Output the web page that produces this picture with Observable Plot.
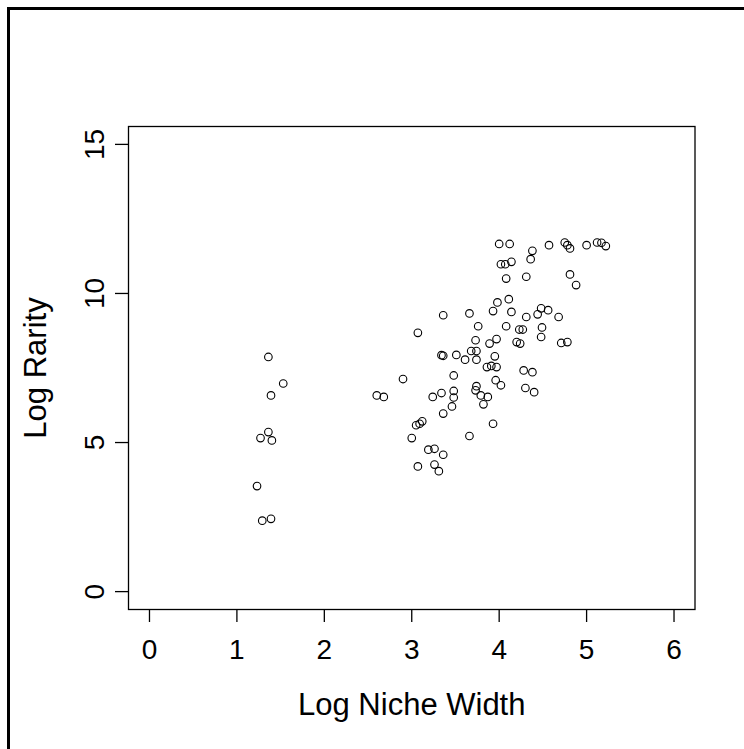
<!DOCTYPE html>
<html><head><meta charset="utf-8">
<script src="https://cdn.jsdelivr.net/npm/d3@7"></script>
<script src="https://cdn.jsdelivr.net/npm/@observablehq/plot@0.6"></script>
<style>
html,body{margin:0;padding:0;background:#fff;overflow:hidden;}
#wrap{position:relative;width:744px;height:749px;overflow:hidden;}
#border{position:absolute;left:7px;top:7px;width:800px;height:800px;border:3px solid #000;pointer-events:none;}
</style></head><body>
<div id="wrap"><div id="chart"></div><div id="border"></div></div>
<script>
const nicheWidth = [
  1.36,1.53,1.39,1.36,1.27,1.40,1.23,1.29,1.39,
  3.76,4.08,3.07,3.73,3.89,3.97,3.34,3.36,3.51,3.68,3.74,3.61,3.74,3.95,3.86,3.91,3.97,3.48,2.90,3.96,4.02,
  2.60,2.68,3.24,3.34,3.48,3.48,3.74,3.73,3.79,3.87,3.82,3.46,3.36,3.12,3.09,3.05,3.93,3.00,3.66,3.19,3.26,3.36,3.07,3.26,3.31,
  4.00,4.12,4.38,4.36,4.57,4.75,4.78,4.81,5.00,5.12,5.17,5.22,4.02,4.07,4.14,4.08,4.31,4.81,4.88,4.11,3.98,3.36,3.66,3.93,4.14,4.31,4.44,4.48,4.56,4.68,4.23,4.27,4.49,4.48,
  4.20,4.24,4.71,4.78,4.28,4.38,4.30,4.40
];
const rarity = [
  7.87,6.98,6.58,5.35,5.15,5.07,3.54,2.38,2.44,
  8.90,8.90,8.68,8.43,8.32,8.47,7.93,7.91,7.94,8.07,8.07,7.78,7.78,7.89,7.53,7.57,7.53,7.25,7.13,7.09,6.92,
  6.58,6.53,6.53,6.66,6.73,6.51,6.89,6.75,6.58,6.53,6.28,6.21,5.97,5.71,5.63,5.58,5.63,5.15,5.22,4.76,4.79,4.59,4.20,4.26,4.04,
  11.66,11.66,11.43,11.15,11.62,11.71,11.62,11.51,11.62,11.71,11.70,11.59,10.98,10.98,11.06,10.50,10.56,10.64,10.28,9.81,9.70,9.27,9.33,9.41,9.38,9.21,9.30,9.50,9.44,9.21,8.79,8.79,8.86,8.54,
  8.37,8.32,8.34,8.37,7.42,7.36,6.83,6.69
];
const xTicks = [0, 1, 2, 3, 4, 5, 6];
const yTicks = [0, 5, 10, 15];
const xLabel = "Log Niche Width";
const yLabel = "Log Rarity";

const data = nicheWidth.map((x, i) => ({x, y: rarity[i]}));

const chart = Plot.plot({
  width: 744,
  height: 749,
  marginLeft: 128,
  marginRight: 49.5,
  marginTop: 126,
  marginBottom: 140,
  style: {fontFamily: '"Liberation Sans", Arial, sans-serif', fontSize: "28px", color: "#000", background: "#fff"},
  x: {domain: [-0.24, 6.24]},
  y: {domain: [-0.6, 15.6]},
  marks: [
    Plot.frame({stroke: "#000", strokeWidth: 1.3}),
    Plot.axisX(xTicks, {tickSize: 13, tickPadding: 17, fontSize: 28, strokeWidth: 1.3, label: null}),
    Plot.axisY(yTicks, {tickSize: 13, tickFormat: () => "", strokeWidth: 1.3, label: null}),
    Plot.text(yTicks, {y: d => d, text: d => String(d), frameAnchor: "left", dx: -33, rotate: -90, textAnchor: "middle", lineAnchor: "middle", fontSize: 28, fill: "#000"}),
    Plot.text([xLabel], {x: 3, frameAnchor: "bottom", dy: 105, text: d => d, textAnchor: "middle", fontSize: 31, fill: "#000"}),
    Plot.text([yLabel], {y: 7.5, frameAnchor: "left", dx: -92, rotate: -90, text: d => d, textAnchor: "middle", lineAnchor: "middle", fontSize: 31, fill: "#000"}),
    Plot.dot(data, {x: "x", y: "y", r: 3.8, stroke: "#000", strokeWidth: 1.1, fill: "none"})
  ]
});
document.getElementById("chart").append(chart);
</script>
</body></html>
